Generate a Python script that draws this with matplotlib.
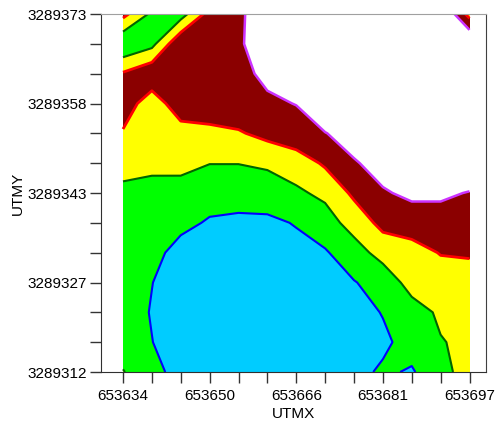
import numpy as np
import matplotlib
matplotlib.use("Agg")
import matplotlib.pyplot as plt
import matplotlib.ticker as mtick

plt.rcParams['font.family'] = ['Liberation Sans', 'DejaVu Sans']

# grid nodes (UTM metres)
utmx = [653634.00, 653639.25, 653644.50, 653649.75, 653655.00, 653660.25, 653665.50,
        653670.75, 653676.00, 653681.25, 653686.50, 653691.75, 653697.00]
utmy_top_down = [3289373.00, 3289367.92, 3289362.83, 3289357.75, 3289352.67, 3289347.58,
                 3289342.50, 3289337.42, 3289332.33, 3289327.25, 3289322.17, 3289317.08, 3289312.00]

# gridded values, rows from north (top) to south (bottom)
z_rows = [
    [3.30, 1.80, 1.56, 3.40, 3.85, 4.50, 5.00, 5.00, 5.00, 5.00, 5.00, 5.26, 2.63],
    [1.10, 1.70, 3.90, 3.70, 3.88, 4.50, 5.00, 5.00, 5.00, 5.00, 5.00, 5.00, 5.20],
    [3.10, 3.80, 3.80, 3.80, 3.80, 4.16, 5.00, 5.00, 5.00, 5.00, 5.00, 5.00, 5.00],
    [3.60, 2.40, 3.65, 3.70, 3.70, 3.88, 4.02, 5.00, 5.00, 5.00, 5.00, 5.00, 5.00],
    [2.90, 2.50, 2.55, 2.70, 2.90, 3.30, 3.70, 3.96, 4.50, 5.00, 5.00, 5.00, 5.00],
    [2.47, 2.29, 2.36, 2.02, 2.02, 2.15, 2.43, 3.15, 3.90, 4.40, 5.00, 5.00, 5.00],
    [1.70, 1.60, 1.50, 1.40, 1.40, 1.50, 1.85, 2.20, 3.20, 3.90, 4.20, 4.20, 3.94],
    [1.70, 1.50, 1.25, 0.90, 0.80, 0.80, 1.06, 1.60, 2.37, 3.30, 3.50, 3.50, 3.40],
    [1.60, 1.30, 0.65, 0.50, 0.50, 0.55, 0.70, 0.90, 1.60, 2.35, 2.60, 3.05, 3.10],
    [1.50, 1.02, 0.50, 0.30, 0.30, 0.30, 0.40, 0.60, 0.95, 1.40, 2.37, 2.50, 2.60],
    [1.50, 0.94, 0.50, 0.30, 0.30, 0.30, 0.30, 0.40, 0.60, 1.05, 1.60, 2.15, 2.30],
    [1.50, 1.02, 0.50, 0.30, 0.30, 0.30, 0.30, 0.40, 0.60, 0.80, 1.40, 1.95, 2.20],
    [2.05, 1.30, 0.65, 0.40, 0.30, 0.30, 0.35, 0.50, 0.70, 1.15, 0.90, 1.70, 2.40],
]

levels = [0, 1, 2, 3, 4, 6]
fill_colors = ['#00CCFF', '#00FF00', '#FFFF00', '#8B0000', '#FFFFFF']
line_colors = ['#0000FF', '#006400', '#FF0000', '#CC33FF']

x_ticks = [653634, 653649.75, 653665.5, 653681.25, 653697]
x_ticklabels = ['653634', '653650', '653666', '653681', '653697']
y_ticks = [3289312, 3289327.25, 3289342.5, 3289357.75, 3289373]
y_ticklabels = ['3289312', '3289327', '3289343', '3289358', '3289373']

x = np.array(utmx)
y = np.array(utmy_top_down)[::-1]
z = np.array(z_rows)[::-1]

fig = plt.figure(figsize=(4.96, 4.21), dpi=100)
ax = fig.add_axes([101/496, 49/421, 385/496, 358/421])

ax.contourf(x, y, z, levels=levels, colors=fill_colors)
ax.contour(x, y, z, levels=levels[1:-1], colors=line_colors, linewidths=[1.5, 1.5, 2.0, 1.8])

ax.set_xlim(653630, 653700)
ax.set_ylim(3289312, 3289373)

ax.set_xticks(x_ticks)
ax.set_xticklabels(x_ticklabels)
ax.set_yticks(y_ticks)
ax.set_yticklabels(y_ticklabels)
# minor ticks fall on the grid nodes
ax.xaxis.set_minor_locator(mtick.FixedLocator(utmx))
ax.yaxis.set_minor_locator(mtick.FixedLocator(utmy_top_down))
ax.tick_params(which='both', direction='out', length=8, width=1, color='#333333')
ax.tick_params(axis='x', which='major', labelsize=11, pad=4)
ax.tick_params(axis='y', which='major', labelsize=11, pad=2)

ax.set_xlabel('UTMX', fontsize=11, labelpad=3)
ax.set_ylabel('UTMY', fontsize=11, labelpad=2)

ax.spines['top'].set_color('#A0A0A0')
ax.spines['right'].set_color('#404040')
ax.spines['left'].set_color('#303030')
ax.spines['bottom'].set_color('#303030')

fig.savefig('out.png', dpi=100)
plt.close(fig)
